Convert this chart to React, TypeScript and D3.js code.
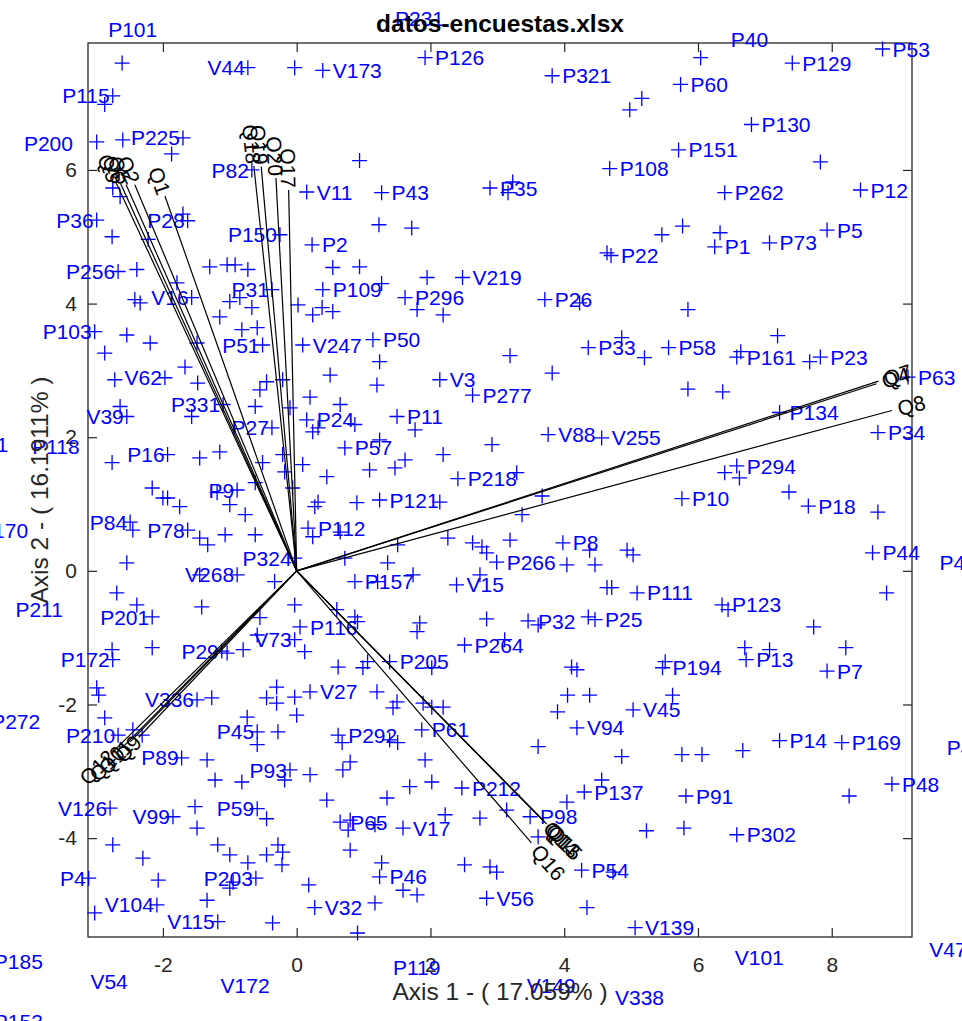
import React, { useEffect, useRef } from "react";
import * as d3 from "d3";

const width = 962;
const height = 1021;

const xTicks = [-2, 0, 2, 4, 6, 8];
const yTicks = [-4, -2, 0, 2, 4, 6];

// variable loadings (arrows)
const varNames = ["Q3", "Q6", "Q5", "Q2", "Q1", "Q18", "Q19", "Q20", "Q17", "Q4", "Q7", "Q8", "Q12", "Q10", "Q11", "Q9", "Q13", "Q14", "Q15", "Q16"];
const varAxis1 = [-2.7, -2.63, -2.55, -2.42, -1.97, -0.64, -0.53, -0.31, -0.12, 8.67, 8.7, 8.9, -2.75, -2.61, -2.49, -2.36, 3.71, 3.68, 3.74, 3.51];
const varAxis2 = [5.81, 5.79, 5.78, 5.78, 5.61, 6.06, 6.05, 5.88, 5.7, 2.8, 2.84, 2.4, -2.71, -2.65, -2.56, -2.49, -3.76, -3.73, -3.79, -4.07];

// observations with a name: [name, axis 1, axis 2]
const labelledObs: [string, number, number][] = [
  ["P101", -2.04, 8.1], ["P200", -3.3, 6.39], ["P115", -2.75, 7.11], ["P225", -1.7, 6.48],
  ["P82", -0.67, 6.0], ["V44", -0.73, 7.53], ["V173", 0.39, 7.49], ["P36", -2.99, 5.25],
  ["P28", -1.63, 5.24], ["P150", -0.25, 5.03], ["P256", -2.67, 4.48], ["P31", -0.37, 4.21],
  ["V16", -1.57, 4.09], ["P103", -3.02, 3.58], ["P51", -0.51, 3.38], ["V62", -1.97, 2.89],
  ["P331", -1.1, 2.49], ["V39", -2.54, 2.31], ["P27", -0.37, 2.14], ["P118", -3.2, 1.86],
  ["P241", -4.27, 1.89], ["P16", -1.93, 1.74], ["P9", -0.89, 1.21], ["P84", -2.49, 0.73],
  ["P170", -3.97, 0.61], ["P78", -1.63, 0.61], ["P324", -0.03, 0.19], ["V268", -0.89, -0.06],
  ["P211", -3.45, -0.58], ["P201", -2.16, -0.69], ["P172", -2.75, -1.33], ["P29", -1.12, -1.2],
  ["V73", -0.03, -1.03], ["V336", -1.49, -1.93], ["P272", -3.79, -2.26], ["P210", -2.67, -2.46],
  ["P45", -0.59, -2.41], ["P89", -1.72, -2.8], ["P93", -0.1, -2.98], ["V126", -2.79, -3.55],
  ["V99", -1.85, -3.68], ["P59", -0.59, -3.56], ["P4", -3.11, -4.6], ["P203", -0.61, -4.6],
  ["V104", -2.09, -5.0], ["V115", -1.18, -5.25], ["P185", -3.75, -5.85], ["V54", -2.48, -6.15],
  ["V172", -0.36, -6.2], ["P153", -3.75, -6.75],
  ["P231", 1.32, 8.27], ["P126", 1.92, 7.68], ["P321", 3.82, 7.41], ["P40", 6.34, 7.95],
  ["P129", 7.41, 7.6], ["P53", 8.76, 7.81], ["P60", 5.74, 7.28], ["P130", 6.8, 6.68],
  ["P151", 5.71, 6.3], ["P108", 4.68, 6.02], ["V11", 0.15, 5.67], ["P43", 1.27, 5.66],
  ["P35", 2.89, 5.73], ["P262", 6.4, 5.66], ["P12", 8.43, 5.7], ["P2", 0.23, 4.88],
  ["P22", 4.7, 4.72], ["P1", 6.25, 4.85], ["P73", 7.07, 4.91], ["P5", 7.93, 5.1],
  ["V219", 2.48, 4.39], ["P109", 0.39, 4.21], ["P296", 1.62, 4.09], ["P26", 3.71, 4.06],
  ["V247", 0.09, 3.38], ["P50", 1.14, 3.46], ["P33", 4.36, 3.34], ["P58", 5.56, 3.34],
  ["P161", 6.58, 3.2], ["P23", 7.83, 3.2], ["V3", 2.14, 2.86], ["P277", 2.63, 2.63],
  ["P63", 9.14, 2.9], ["P24", 0.15, 2.26], ["P11", 1.5, 2.31], ["P134", 7.22, 2.37],
  ["V88", 3.76, 2.04], ["V255", 4.56, 1.99], ["P34", 8.69, 2.07], ["P57", 0.72, 1.84],
  ["P294", 6.58, 1.57], ["P218", 2.41, 1.38], ["P121", 1.24, 1.06], ["P10", 5.76, 1.08],
  ["P18", 7.65, 0.97], ["P112", 0.17, 0.64], ["P8", 3.98, 0.42], ["P44", 8.61, 0.27],
  ["P47", 9.46, 0.12], ["P266", 2.99, 0.13], ["P157", 0.87, -0.16], ["V15", 2.39, -0.21],
  ["P111", 5.09, -0.33], ["P123", 6.36, -0.51], ["P32", 3.46, -0.75], ["P25", 4.46, -0.73],
  ["P116", 0.05, -0.84], ["P264", 2.51, -1.11], ["P205", 1.39, -1.36], ["P13", 6.72, -1.33],
  ["P194", 5.47, -1.45], ["P7", 7.93, -1.5], ["V27", 0.2, -1.81], ["V45", 5.03, -2.08],
  ["V94", 4.19, -2.35], ["P61", 1.87, -2.38], ["P292", 0.62, -2.46], ["P14", 7.22, -2.54],
  ["P169", 8.15, -2.57], ["P49", 9.57, -2.65], ["P48", 8.9, -3.19], ["P212", 2.47, -3.25],
  ["P137", 4.3, -3.31], ["P91", 5.82, -3.37], ["P98", 3.49, -3.68], ["P65", 0.65, -3.76],
  ["V17", 1.59, -3.85], ["P302", 6.58, -3.95], ["P54", 4.26, -4.48], ["P46", 1.24, -4.58],
  ["V56", 2.84, -4.9], ["V32", 0.27, -5.04], ["V139", 5.06, -5.34], ["V47", 9.31, -5.67],
  ["V101", 6.4, -5.79], ["P119", 1.29, -5.94], ["V149", 3.29, -6.2], ["V338", 4.61, -6.38],
];

// observations drawn without a name: [axis 1, axis 2]
const otherObs: [number, number][] = [
  [-2.61, 7.6], [-2.87, 6.98], [-2.99, 6.42], [-2.6, 6.45], [-1.87, 6.24], [-2.75, 5.73],
  [-2.64, 5.6], [-0.03, 7.53], [-1.7, 5.34], [-2.76, 5.0], [-2.22, 4.96], [-2.39, 4.51],
  [-1.3, 4.55], [-1.04, 4.58], [-0.92, 4.58], [-0.73, 4.51], [-1.79, 4.31], [-2.42, 4.06],
  [-2.34, 4.01], [-1.0, 4.03], [-0.85, 4.09], [-0.67, 3.94], [0.02, 3.98], [0.24, 3.83],
  [-2.54, 3.53], [-2.19, 3.41], [-2.87, 3.26], [-1.15, 3.8], [-1.49, 3.41], [-0.82, 3.61],
  [-0.59, 3.64], [-1.67, 3.05], [-2.72, 2.86], [-1.48, 2.81], [-0.45, 2.83], [-0.55, 2.71],
  [-0.21, 2.86], [0.2, 2.6], [-2.64, 2.46], [-1.57, 2.31], [-0.62, 2.46], [-0.1, 2.44],
  [0.24, 2.08], [-2.76, 1.62], [-1.45, 1.69], [-1.15, 1.78], [-0.51, 1.62], [-0.21, 1.74],
  [-0.18, 1.48], [0.09, 1.59], [-2.16, 1.24], [-2.0, 1.09], [-1.93, 1.09], [-1.75, 0.96],
  [-1.19, 1.17], [-1.0, 0.99], [-0.77, 0.84], [-0.62, 1.32], [-0.06, 1.24], [0.27, 0.96],
  [-2.45, 0.61], [-1.45, 0.49], [-1.33, 0.39], [-1.07, 0.54], [-0.62, 0.54], [0.24, 0.51],
  [-2.54, 0.12], [-1.45, -0.06], [-0.33, -0.16], [-2.69, -0.33], [-2.39, -0.51], [-1.42, -0.54],
  [-0.03, -0.51], [-0.55, -0.7], [-0.59, -0.96], [-2.76, -1.18], [-2.16, -1.15], [-1.04, -1.23],
  [-0.8, -1.18], [0.12, -1.21], [-2.99, -1.75], [-2.96, -1.86], [-1.27, -1.9], [-0.45, -1.9],
  [-0.3, -1.74], [-0.3, -1.98], [-0.03, -1.89], [-2.87, -2.2], [-0.74, -2.19], [0.0, -2.16],
  [-2.45, -2.38], [-2.31, -2.46], [-0.28, -2.41], [-0.59, -2.6], [-1.34, -2.83], [-1.22, -3.13],
  [-0.82, -3.16], [-0.18, -3.13], [0.2, -3.05], [-1.52, -3.53], [-1.49, -3.85], [-0.45, -3.71],
  [-2.75, -4.1], [-2.3, -4.3], [-1.18, -4.1], [-1.0, -4.25], [-0.73, -4.37], [-0.45, -4.25],
  [-0.28, -4.1], [-0.21, -4.21], [-0.22, -4.4], [-2.07, -4.63], [-0.95, -4.66], [-1.0, -4.75],
  [0.18, -4.7], [-3.02, -5.12], [-1.34, -4.93], [-0.36, -5.27],
  [0.94, 6.14], [4.98, 6.9], [5.16, 7.07], [6.04, 7.68], [7.83, 6.12], [3.16, 5.66],
  [3.23, 5.82], [1.23, 5.18], [1.72, 5.13], [4.64, 4.76], [5.46, 5.03], [5.77, 5.16],
  [6.33, 5.06], [0.54, 4.54], [0.94, 4.55], [1.27, 4.3], [1.95, 4.39], [4.23, 4.01],
  [0.38, 3.94], [0.54, 3.88], [1.8, 3.91], [2.19, 3.83], [1.24, 3.13], [3.19, 3.22],
  [4.86, 3.49], [0.5, 2.93], [1.2, 2.78], [3.82, 2.96], [0.65, 2.49], [0.32, 2.14],
  [0.87, 2.19], [1.77, 2.11], [1.24, 1.96], [2.92, 1.89], [0.45, 1.41], [1.09, 1.51],
  [1.47, 1.54], [1.62, 1.66], [2.19, 1.74], [3.29, 1.47], [3.67, 1.12], [3.37, 0.84],
  [0.32, 1.03], [0.9, 1.02], [2.14, 1.03], [0.65, 0.58], [1.51, 0.39], [2.26, 0.49],
  [2.63, 0.42], [2.77, 0.36], [2.84, 0.27], [3.19, 0.46], [4.38, 0.31], [4.94, 0.31],
  [4.04, 0.09], [4.46, 0.09], [0.72, 0.19], [1.36, 0.12], [1.21, -0.16], [1.74, -0.06],
  [2.74, -0.06], [4.64, -0.25], [4.71, -0.25], [5.03, 0.24], [8.82, -0.33], [5.85, 3.91],
  [7.19, 3.52], [5.2, 3.19], [6.64, 3.28], [7.67, 3.13], [5.85, 2.72], [6.37, 2.68],
  [6.4, 1.47], [6.62, 1.39], [7.36, 1.18], [8.69, 0.88], [0.6, -0.58], [0.87, -0.69],
  [0.91, -0.76], [1.84, -0.78], [1.8, -0.91], [2.84, -0.72], [3.61, -0.81], [4.36, -0.69],
  [3.11, -1.03], [0.62, -1.44], [0.99, -1.45], [1.06, -1.36], [2.02, -1.45], [4.11, -1.44],
  [4.19, -1.48], [1.2, -1.81], [1.5, -1.96], [1.44, -2.05], [1.89, -1.98], [2.02, -2.04],
  [2.19, -2.04], [4.05, -1.86], [4.38, -1.86], [3.9, -2.11], [1.39, -2.53], [1.51, -2.57],
  [0.68, -2.57], [3.61, -2.63], [4.86, -2.78], [1.92, -2.83], [0.8, -2.86], [0.69, -2.98],
  [1.69, -3.23], [2.02, -3.16], [0.45, -3.43], [1.35, -3.4], [3.14, -3.58], [4.04, -3.46],
  [4.56, -3.13], [2.74, -3.7], [2.22, -3.65], [0.8, -3.73], [0.77, -3.88], [1.17, -3.8],
  [3.61, -3.98], [0.8, -4.18], [1.27, -4.37], [1.59, -4.78], [1.8, -4.85], [2.51, -4.4],
  [2.89, -4.43], [2.99, -4.51], [4.73, -4.51], [1.17, -4.97], [4.34, -5.04], [0.91, -5.42],
  [7.73, -0.84], [6.45, -0.58], [6.7, -1.15], [7.07, -1.18], [8.21, -1.15], [5.51, -1.36],
  [5.62, -1.86], [5.76, -2.75], [6.06, -2.75], [6.67, -2.69], [8.26, -3.37], [5.23, -3.89],
  [5.79, -3.85],
];

const font = "'Liberation Sans', Arial, Helvetica, sans-serif";

const App = () => {
  const ref = useRef<SVGSVGElement>(null);

  useEffect(() => {
    const box = { left: 88, right: 912, top: 43, bottom: 937 };
    const xDomain: [number, number] = [-3.12, 9.2];
    const yDomain: [number, number] = [-5.48, 7.9];

    const x = d3.scaleLinear().domain(xDomain).range([box.left, box.right]);
    const y = d3.scaleLinear().domain(yDomain).range([box.bottom, box.top]);

    const svg = d3.select(ref.current);
    svg.selectAll("*").remove();

    svg
      .append("rect")
      .attr("width", width)
      .attr("height", height)
      .attr("fill", "#fff");

    // axes with inward ticks on all four sides
    const fmt = (d: d3.NumberValue) => String(d);
    const axisColor = "#262626";

    const styleAxis = (g: d3.Selection<SVGGElement, unknown, null, undefined>) => {
      g.select(".domain").remove();
      g.selectAll(".tick line").attr("stroke", axisColor).attr("stroke-width", 1.2);
      g.selectAll(".tick text")
        .attr("fill", axisColor)
        .style("font-family", font)
        .style("font-size", "21px");
    };

    svg
      .append("g")
      .attr("transform", `translate(0,${box.bottom})`)
      .call(d3.axisBottom(x).tickValues(xTicks).tickFormat(fmt).tickSize(-9).tickPadding(20))
      .call(styleAxis);
    svg
      .append("g")
      .attr("transform", `translate(0,${box.top})`)
      .call(d3.axisTop(x).tickValues(xTicks).tickFormat(() => "").tickSize(-9))
      .call(styleAxis);
    svg
      .append("g")
      .attr("transform", `translate(${box.left},0)`)
      .call(d3.axisLeft(y).tickValues(yTicks).tickFormat(fmt).tickSize(-9).tickPadding(11))
      .call(styleAxis);
    svg
      .append("g")
      .attr("transform", `translate(${box.right},0)`)
      .call(d3.axisRight(y).tickValues(yTicks).tickFormat(() => "").tickSize(-9))
      .call(styleAxis);

    svg
      .append("rect")
      .attr("x", box.left)
      .attr("y", box.top)
      .attr("width", box.right - box.left)
      .attr("height", box.bottom - box.top)
      .attr("fill", "none")
      .attr("stroke", axisColor)
      .attr("stroke-width", 1.3);

    const inside = (a: number, b: number) =>
      a >= xDomain[0] && a <= xDomain[1] && b >= yDomain[0] && b <= yDomain[1];

    const allObs: [number, number][] = [
      ...labelledObs.map((d) => [d[1], d[2]] as [number, number]),
      ...otherObs,
    ].filter((d) => inside(d[0], d[1]));

    // plus markers
    const arm = 7.5;
    svg
      .append("g")
      .attr("stroke", "#0000ff")
      .attr("stroke-width", 1.3)
      .selectAll("path")
      .data(allObs)
      .join("path")
      .attr("d", (d) => {
        const px = x(d[0]);
        const py = y(d[1]);
        return `M${px - arm},${py}H${px + arm}M${px},${py - arm}V${py + arm}`;
      });

    // observation names, put on the outer side of each point
    svg
      .append("g")
      .selectAll("text")
      .data(labelledObs)
      .join("text")
      .attr("x", (d) => (d[1] < 0 ? x(d[1]) - 3 : x(d[1]) + 10))
      .attr("y", (d) => y(d[2]))
      .attr("dy", "0.36em")
      .attr("text-anchor", (d) => (d[1] < 0 ? "end" : "start"))
      .attr("fill", "#0000ff")
      .style("font-family", font)
      .style("font-size", "21px")
      .text((d) => d[0]);

    // loading vectors
    const ox = x(0);
    const oy = y(0);
    const vars = varNames.map((name, i) => ({ name, tx: x(varAxis1[i]), ty: y(varAxis2[i]) }));

    svg
      .append("g")
      .selectAll("line")
      .data(vars)
      .join("line")
      .attr("x1", ox)
      .attr("y1", oy)
      .attr("x2", (d) => d.tx)
      .attr("y2", (d) => d.ty)
      .attr("stroke", "#000")
      .attr("stroke-width", 1.2);

    svg
      .append("g")
      .selectAll("text")
      .data(vars)
      .join("text")
      .attr("transform", (d) => {
        const ang = Math.atan2(d.ty - oy, d.tx - ox);
        const gap = d.tx < ox ? 2 : 6;
        const lx = d.tx + gap * Math.cos(ang);
        const ly = d.ty + gap * Math.sin(ang);
        let deg = (ang * 180) / Math.PI;
        if (d.tx < ox) deg += 180;
        return `translate(${lx},${ly}) rotate(${deg})`;
      })
      .attr("dy", "0.36em")
      .attr("text-anchor", (d) => (d.tx < ox ? "end" : "start"))
      .attr("fill", "#000")
      .style("font-family", font)
      .style("font-size", "21px")
      .text((d) => d.name);

    // axis titles
    svg
      .append("text")
      .attr("x", (box.left + box.right) / 2)
      .attr("y", 1000)
      .attr("text-anchor", "middle")
      .attr("fill", axisColor)
      .style("font-family", font)
      .style("font-size", "24.5px")
      .text("Axis 1 - ( 17.059% )");

    svg
      .append("text")
      .attr("transform", `translate(48,${(box.top + box.bottom) / 2}) rotate(-90)`)
      .attr("text-anchor", "middle")
      .attr("fill", axisColor)
      .style("font-family", font)
      .style("font-size", "24.5px")
      .text("Axis 2 - ( 16.1911% )");

    svg
      .append("text")
      .attr("x", (box.left + box.right) / 2)
      .attr("y", 32)
      .attr("text-anchor", "middle")
      .attr("fill", "#000")
      .style("font-family", font)
      .style("font-size", "24.5px")
      .style("font-weight", "bold")
      .text("datos-encuestas.xlsx");
  }, []);

  return (
    <svg
      ref={ref}
      width={width}
      height={height}
      style={{ position: "absolute", left: 0, top: 0 }}
    />
  );
};

export default App;
